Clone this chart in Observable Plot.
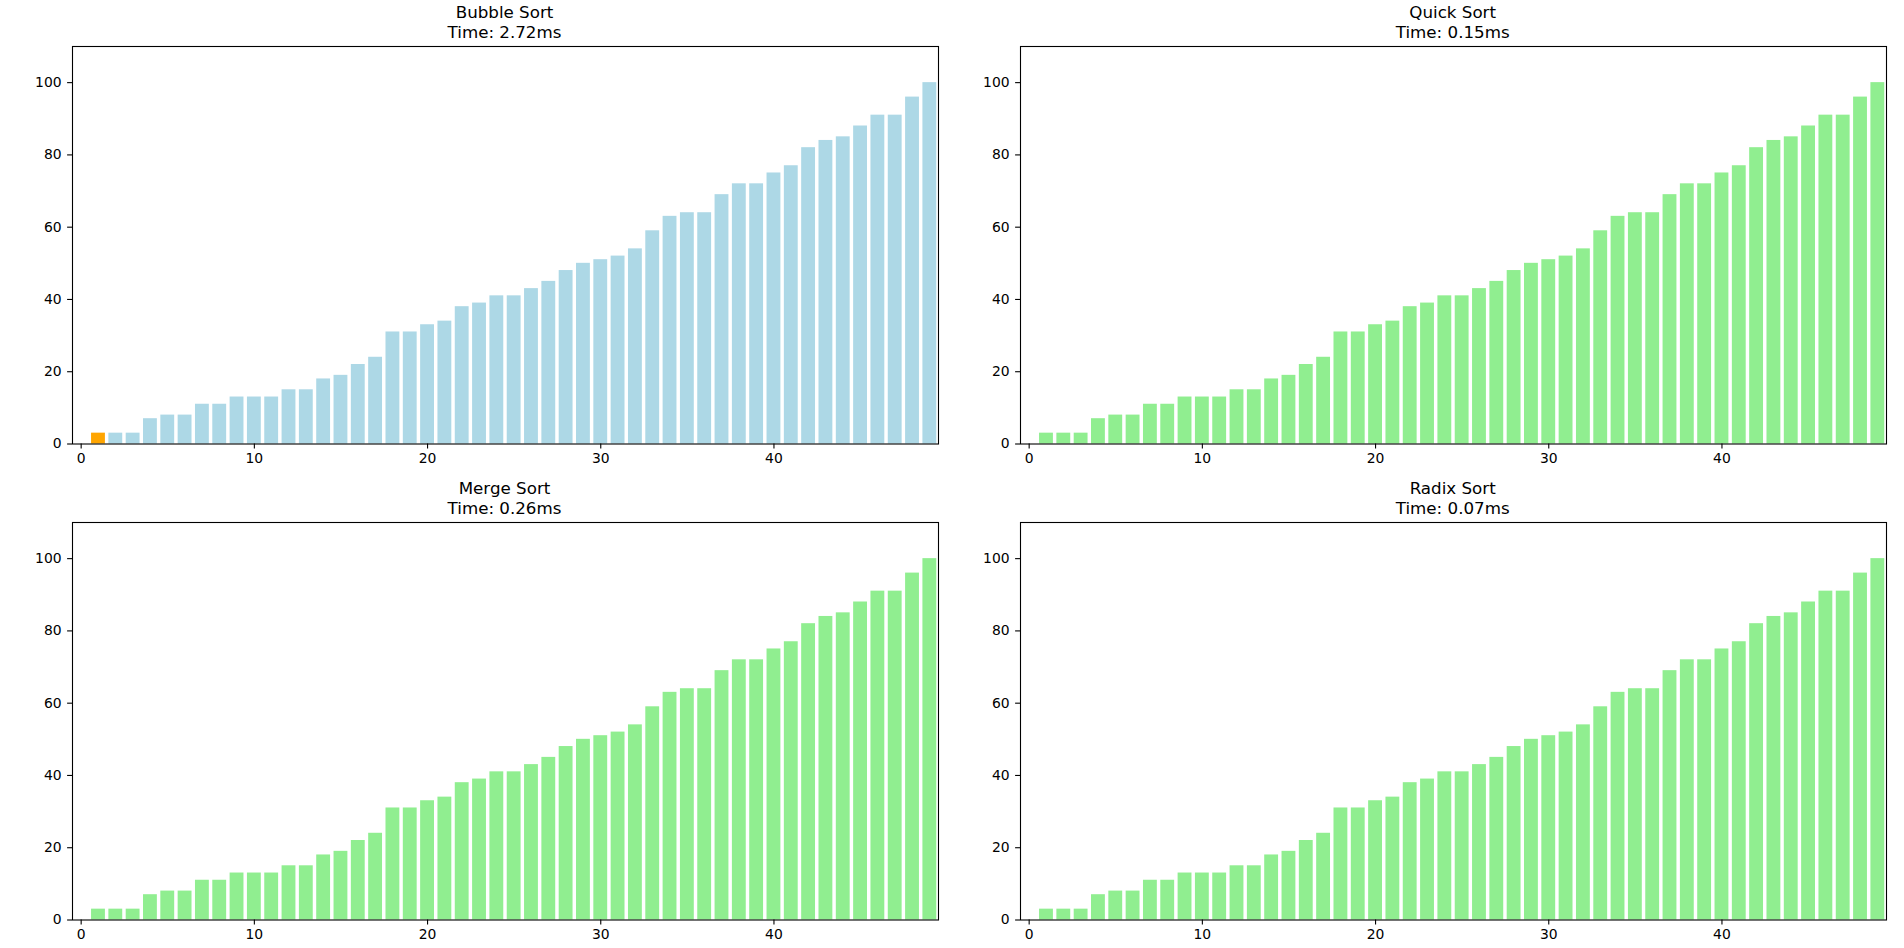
<!DOCTYPE html>
<html>
<head>
<meta charset="utf-8">
<script src="https://cdn.jsdelivr.net/npm/d3@7"></script>
<script src="https://cdn.jsdelivr.net/npm/@observablehq/plot@0.6"></script>
<style>
  html, body { margin: 0; padding: 0; background: #fff; }
  #root { position: relative; width: 1904px; height: 948px; overflow: hidden; font-family: "DejaVu Sans", sans-serif; color: #000; }
  .panel { position: absolute; }
  .title { position: absolute; text-align: center; font-size: 16.7px; line-height: 20.5px; font-family: "DejaVu Sans", sans-serif; white-space: pre; }
</style>
</head>
<body>
<div id="root"></div>
<script>
// ---- data ----
const algorithms = ["Bubble Sort", "Quick Sort", "Merge Sort", "Radix Sort"];
const times = ["2.72ms", "0.15ms", "0.26ms", "0.07ms"];
const indices = d3.range(50);
const sortedValues = [0, 3, 3, 3, 7, 8, 8, 11, 11, 13, 13, 13, 15, 15, 18, 19, 22, 24, 31, 31,
  33, 34, 38, 39, 41, 41, 43, 45, 48, 50, 51, 52, 54, 59, 63, 64, 64, 69, 72, 72,
  75, 77, 82, 84, 85, 88, 91, 91, 96, 100];
const highlighted = [[1], [], [], []];   // indices drawn in the highlight colour per panel
const finished = [false, true, true, true];
const xTicks = [0, 10, 20, 30, 40];
const yTicks = [0, 20, 40, 60, 80, 100];

// ---- styles / layout ----
const colorActive = "#ADD8E6";   // lightblue
const colorDone = "#90EE90";     // lightgreen
const colorHighlight = "#FFA500"; // orange
const axesW = 866, axesH = 397.5;
const mL = 60, mR = 10, mT = 10, mB = 40;
const axesPos = [[71.5, 46], [1019.7, 46], [71.5, 522.3], [1019.7, 522.3]];

const root = document.getElementById("root");

algorithms.forEach((name, k) => {
  const data = indices.map((i) => ({i, v: sortedValues[i], hl: highlighted[k].includes(i)}));
  const base = finished[k] ? colorDone : colorActive;
  const chart = Plot.plot({
    width: axesW + mL + mR,
    height: axesH + mT + mB,
    marginLeft: mL, marginRight: mR, marginTop: mT, marginBottom: mB,
    style: {fontFamily: "DejaVu Sans, sans-serif", fontSize: "13.9px", color: "#000", background: "transparent", overflow: "visible"},
    x: {domain: [-0.5, 49.5]},
    y: {domain: [0, 110]},
    marks: [
      Plot.rectY(data, {
        x1: (d) => d.i - 0.4, x2: (d) => d.i + 0.4, y1: 0, y2: "v",
        fill: (d) => d.hl ? colorHighlight : base,
        inset: 0
      }),
      Plot.frame({stroke: "#000", strokeWidth: 1.1}),
      Plot.axisX({ticks: xTicks, tickSize: 4.9, tickPadding: 4.7, label: null, fontSize: 13.9, strokeWidth: 1.1}),
      Plot.axisY({ticks: yTicks, tickSize: 4.9, tickPadding: 6, label: null, fontSize: 13.9, strokeWidth: 1.1})
    ]
  });
  chart.classList.add("panel");
  const [ax, ay] = axesPos[k];
  chart.style.left = (ax - mL) + "px";
  chart.style.top = (ay - mT) + "px";
  chart.style.position = "absolute";
  root.appendChild(chart);

  const t = document.createElement("div");
  t.className = "title";
  t.style.left = ax + "px";
  t.style.width = axesW + "px";
  t.style.top = (ay - 44.5) + "px";
  t.textContent = name + "\nTime: " + times[k];
  root.appendChild(t);
});
</script>
</body>
</html>
